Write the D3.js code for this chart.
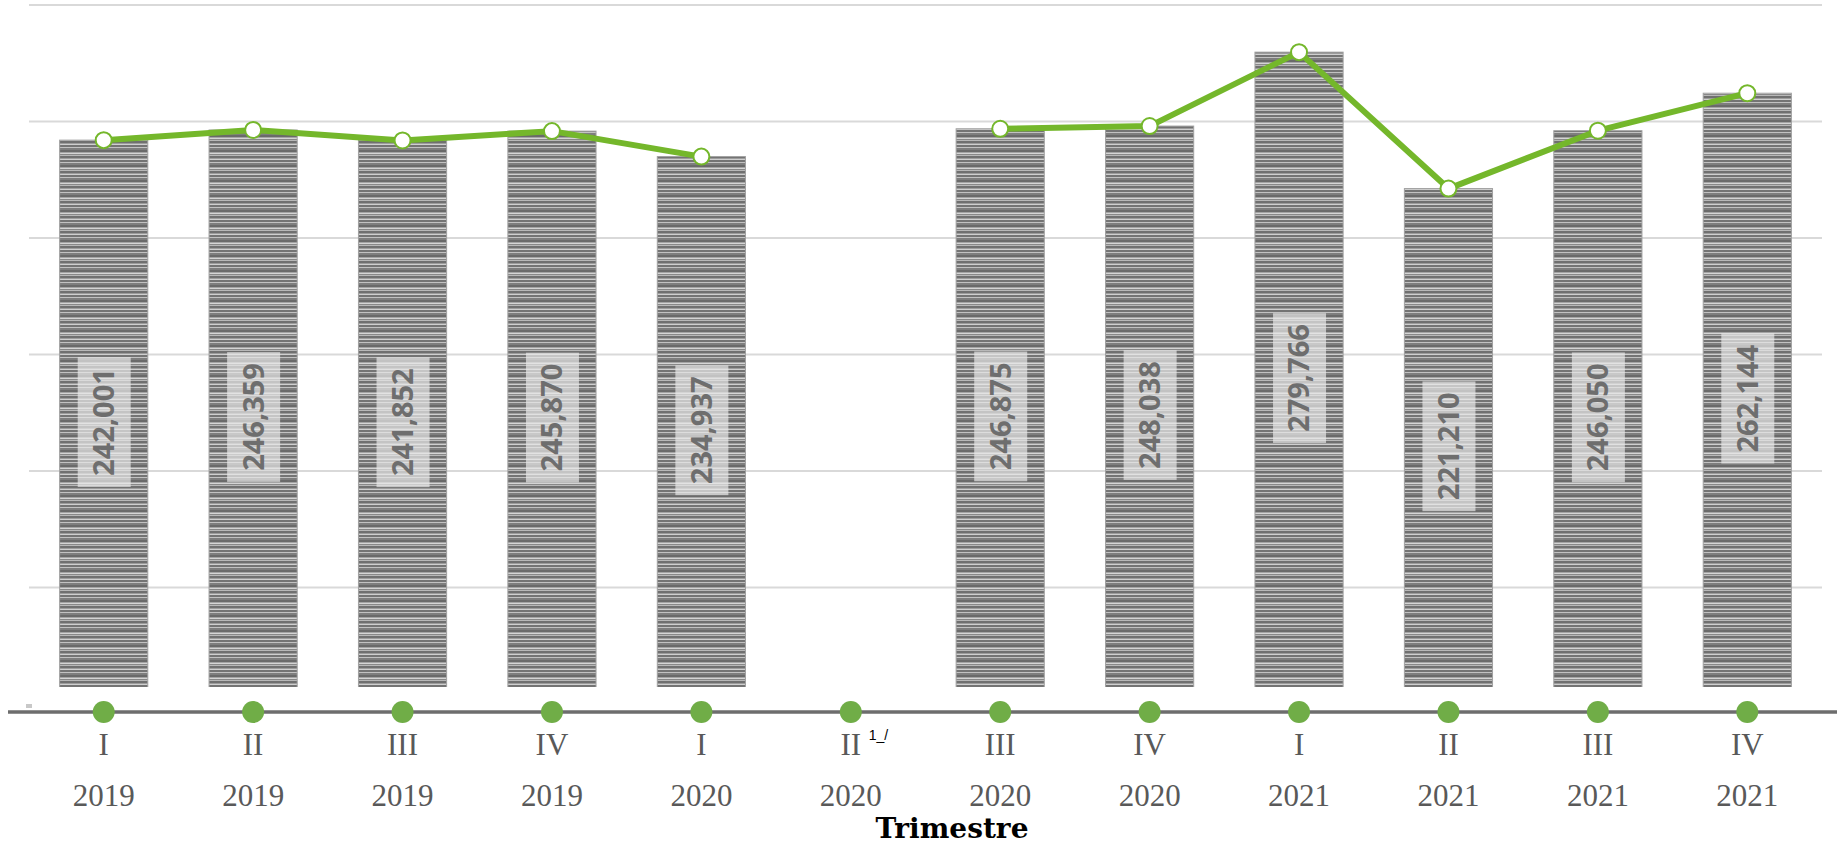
<!DOCTYPE html>
<html lang="es">
<head>
<meta charset="UTF-8">
<title>Trimestre</title>
<script src="https://d3js.org/d3.v7.min.js"></script>
<style>
  html, body { margin: 0; padding: 0; background: #fff; }
  svg { display: block; }
</style>
</head>
<body>
<svg id="chart" width="1837" height="845"></svg>
<script>
// data
const quarters = ["I", "II", "III", "IV", "I", "II", "III", "IV", "I", "II", "III", "IV"];
const years = ["2019", "2019", "2019", "2019", "2020", "2020", "2020", "2020", "2021", "2021", "2021", "2021"];
const barValues = [242001, 246359, 241852, 245870, 234937, null, 246875, 248038, 279766, 221210, 246050, 262144];
const lineValues = [242001, 246359, 241852, 245870, 234937, null, 246875, 248038, 279766, 221210, 246050, 262144];
const yTicks = [50000, 100000, 150000, 200000, 250000, 300000];

const width = 1837, height = 845;
const svg = d3.select("#chart");
const keys = d3.range(quarters.length);

const x = d3.scaleBand()
    .domain(keys)
    .range([29, 1822])
    .paddingInner(0.41)
    .paddingOuter(0.205);

const y = d3.scaleLinear()
    .domain([0, 300000])
    .range([704, 5]);

const axisY = 712;
const fmt = d3.format(",");

// striped fill for the bars
const defs = svg.append("defs");
const pat = defs.append("pattern")
    .attr("id", "stripes")
    .attr("patternUnits", "userSpaceOnUse")
    .attr("width", 8).attr("height", 15);
pat.append("rect").attr("width", 8).attr("height", 15).attr("fill", "#8e8e8e");
[[0, 2, "#6a6a6a"], [2, 1, "#a4a4a4"], [3, 1, "#d4d4d4"], [4, 1, "#888888"],
 [5, 1, "#b8b8b8"], [6, 2, "#707070"], [8, 1, "#9c9c9c"], [9, 1, "#cfcfcf"],
 [10, 2, "#747474"], [12, 1, "#c2c2c2"], [13, 2, "#7e7e7e"]]
  .forEach(([yy, h, c]) => pat.append("rect").attr("y", yy).attr("width", 8).attr("height", h).attr("fill", c));

defs.append("clipPath").attr("id", "plotClip")
  .append("rect").attr("x", 0).attr("y", 0).attr("width", width).attr("height", 687);

// gridlines
svg.append("g")
  .selectAll("line")
  .data(yTicks)
  .join("line")
    .attr("x1", 29).attr("x2", 1822)
    .attr("y1", d => y(d)).attr("y2", d => y(d))
    .attr("stroke", "#d9d9d9")
    .attr("stroke-width", 2);

// bars
const barData = keys.filter(i => barValues[i] != null);
const bars = svg.append("g").attr("clip-path", "url(#plotClip)");
bars.selectAll("rect")
  .data(barData)
  .join("rect")
    .attr("x", i => x(i))
    .attr("width", x.bandwidth())
    .attr("y", i => y(barValues[i]))
    .attr("height", i => y(0) - y(barValues[i]))
    .attr("fill", "url(#stripes)")
    .attr("stroke", "#a0a0a0")
    .attr("stroke-width", 1);

// data labels, rotated, on a light box
const labels = svg.append("g").selectAll("g")
  .data(barData)
  .join("g")
    .attr("transform", i => `translate(${x(i) + x.bandwidth() / 2},${(y(barValues[i]) + y(0)) / 2}) rotate(-90)`);
labels.append("text")
    .attr("text-anchor", "middle")
    .attr("dy", "0.36em")
    .attr("font-family", "'Open Sans', sans-serif")
    .attr("font-weight", "bold")
    .attr("font-size", 29)
    .attr("fill", "#6e6e6e")
    .text(i => fmt(barValues[i]))
    .each(function () {
      const b = this.getBBox();
      d3.select(this.parentNode).insert("rect", "text")
        .attr("x", b.x - 11).attr("y", -26)
        .attr("width", b.width + 22).attr("height", 53)
        .attr("fill", "#e8e8e8")
        .attr("opacity", 0.7);
    });

// green line with a gap at II 2020
const line = d3.line()
    .defined(i => lineValues[i] != null)
    .x(i => x(i) + x.bandwidth() / 2)
    .y(i => y(lineValues[i]));

svg.append("path")
    .datum(keys)
    .attr("d", line)
    .attr("fill", "none")
    .attr("stroke", "#74b72b")
    .attr("stroke-width", 6)
    .attr("stroke-linejoin", "round");

svg.append("g").selectAll("circle")
  .data(keys.filter(i => lineValues[i] != null))
  .join("circle")
    .attr("cx", i => x(i) + x.bandwidth() / 2)
    .attr("cy", i => y(lineValues[i]))
    .attr("r", 8)
    .attr("fill", "#fff")
    .attr("stroke", "#74b72b")
    .attr("stroke-width", 2);

// category axis
svg.append("rect")
    .attr("x", 26).attr("y", 704)
    .attr("width", 6).attr("height", 4)
    .attr("fill", "#c8c8c8");

svg.append("line")
    .attr("x1", 8).attr("x2", width)
    .attr("y1", axisY).attr("y2", axisY)
    .attr("stroke", "#6d6d6d")
    .attr("stroke-width", 3.5);

svg.append("g").selectAll("circle")
  .data(keys)
  .join("circle")
    .attr("cx", i => x(i) + x.bandwidth() / 2)
    .attr("cy", axisY)
    .attr("r", 11)
    .attr("fill", "#70ad47");

const tickG = svg.append("g")
    .attr("font-family", "'Liberation Serif', serif")
    .attr("font-size", 31)
    .attr("fill", "#595959")
    .attr("text-anchor", "middle");

tickG.selectAll("text.q")
  .data(keys)
  .join("text")
    .attr("class", "q")
    .attr("x", i => x(i) + x.bandwidth() / 2)
    .attr("y", 755)
    .text(i => quarters[i]);

tickG.selectAll("text.yr")
  .data(keys)
  .join("text")
    .attr("class", "yr")
    .attr("x", i => x(i) + x.bandwidth() / 2)
    .attr("y", 806)
    .text(i => years[i]);

// footnote mark on II 2020
svg.append("text")
    .attr("x", x(5) + x.bandwidth() / 2 + 18)
    .attr("y", 740)
    .attr("font-family", "'Liberation Sans', sans-serif")
    .attr("font-size", 14)
    .attr("fill", "#000")
    .text("1_/");

// axis title
svg.append("text")
    .attr("x", 952)
    .attr("y", 838)
    .attr("text-anchor", "middle")
    .attr("font-family", "'DejaVu Serif', serif")
    .attr("font-weight", "bold")
    .attr("font-size", 28)
    .attr("fill", "#000")
    .text("Trimestre");
</script>
</body>
</html>
